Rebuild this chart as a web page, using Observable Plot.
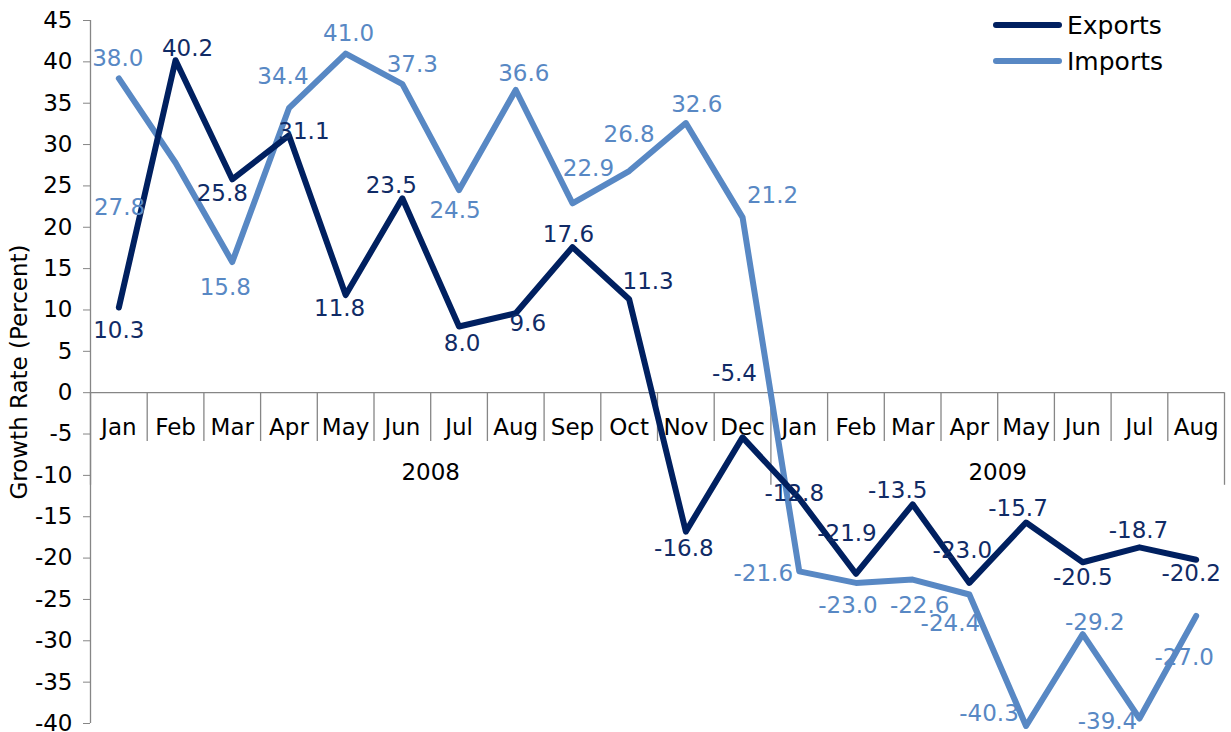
<!DOCTYPE html>
<html>
<head>
<meta charset="utf-8">
<script src="https://cdn.jsdelivr.net/npm/d3@7"></script>
<script src="https://cdn.jsdelivr.net/npm/@observablehq/plot@0.6"></script>
<style>
  body { margin: 0; background: #fff; }
  #wrap { position: relative; width: 1231px; height: 732px; font-family: "DejaVu Sans", Verdana, sans-serif; }
  #legend { position: absolute; left: 990px; top: 7px; font-size: 25px; color: #000; }
  #legend .item { display: flex; align-items: center; height: 36px; }
  #legend svg { display: block; margin-right: 2px; }
</style>
</head>
<body>
<div id="wrap"></div>
<script>
// ---- data ----
const months = ["Jan","Feb","Mar","Apr","May","Jun","Jul","Aug","Sep","Oct","Nov","Dec",
                "Jan","Feb","Mar","Apr","May","Jun","Jul","Aug"];
const years = ["2008", "2009"];
const yearCounts = [12, 8];
const exportsGrowth = [10.3, 40.2, 25.8, 31.1, 11.8, 23.5, 8.0, 9.6, 17.6, 11.3, -16.8, -5.4,
                       -12.8, -21.9, -13.5, -23.0, -15.7, -20.5, -18.7, -20.2];
const importsGrowth = [38.0, 27.8, 15.8, 34.4, 41.0, 37.3, 24.5, 36.6, 22.9, 26.8, 32.6, 21.2,
                       -21.6, -23.0, -22.6, -24.4, -40.3, -29.2, -39.4, -27.0];
const yTicks = [-40, -35, -30, -25, -20, -15, -10, -5, 0, 5, 10, 15, 20, 25, 30, 35, 40, 45];
const seriesNames = ["Exports", "Imports"];

// ---- styling (label nudges in px) ----
const exportDx = [0, 12, -10, 15, -6, -11, 3, 12, -4, 19, -2, -8, -5, -9, -15, -7, -8, 0, -1, -5];
const exportDy = [23, -12, 14, -4, 14, -13, 17, 10, -12, -18, 17, -64, -5, -40, -14, -32, -14, 15, -17, 14];
const importDx = [-1, -56, -7, -6, 3, 10, -4, 8, 16, 0, 11, 30, -36, -8, 7, -19, -37, 12, -32, -12];
const importDy = [-20, 45, 26, -32, -20, -20, 21, -16, -35, -36, -18, -22, 2, 23, 26, 29, -12, -12, 3, 42];
const darkBlue = "#002060";
const darkLabel = "#102b66";
const lightBlue = "#5888c4";
const gray = "#868686";

const exportRows = exportsGrowth.map((v, i) => ({i, v}));
const importRows = importsGrowth.map((v, i) => ({i, v}));

// category boundaries
const boundaries = months.map((_, i) => i).concat([months.length]);
const yearStarts = yearCounts.map((c, k) => yearCounts.slice(0, k).reduce((a, b) => a + b, 0));
const yearBounds = yearStarts.concat([months.length]);
const monthBounds = boundaries.filter(b => !yearBounds.includes(b));
const yearRows = years.map((y, k) => ({y, x: yearStarts[k] + yearCounts[k] / 2}));

function labelMarks(rows, dxs, dys, fill) {
  return rows.map((d, k) => Plot.text([d], {
    x: r => r.i + 0.5, y: "v", text: r => r.v.toFixed(1),
    dx: dxs[k], dy: dys[k], fill, fontSize: 23
  }));
}

const chart = Plot.plot({
  width: 1231,
  height: 732,
  marginLeft: 90,
  marginRight: 7,
  marginTop: 20,
  marginBottom: 9,
  style: { fontFamily: "'DejaVu Sans', Verdana, sans-serif", fontSize: "23px", color: "#000", background: "transparent", overflow: "visible" },
  x: { domain: [0, months.length], axis: null },
  y: { domain: [-40, 45], axis: null },
  marks: [
    Plot.axisY({
      ticks: yTicks, tickSize: 7, tickPadding: 11, stroke: gray,
      tickFormat: d => String(d),
      label: "Growth Rate (Percent)", labelAnchor: "center", labelArrow: "none", labelOffset: 80
    }),
    Plot.ruleX([0], { stroke: gray, strokeWidth: 1.3 }),
    Plot.ruleY([0], { stroke: gray, strokeWidth: 1.3 }),
    Plot.ruleX(monthBounds, { y1: 0, y2: -5.9, stroke: gray, strokeWidth: 1.3 }),
    Plot.ruleX(yearBounds, { y1: 0, y2: -11.2, stroke: gray, strokeWidth: 1.3 }),
    Plot.text(months, { x: (d, i) => i + 0.5, y: () => 0, dy: 35, text: d => d, fill: "#000" }),
    Plot.text(yearRows, { x: "x", y: () => 0, dy: 80, text: "y", fill: "#000" }),
    Plot.line(importRows, { x: d => d.i + 0.5, y: "v", stroke: lightBlue, strokeWidth: 6, strokeLinejoin: "round", strokeLinecap: "round" }),
    Plot.line(exportRows, { x: d => d.i + 0.5, y: "v", stroke: darkBlue, strokeWidth: 6, strokeLinejoin: "round", strokeLinecap: "round" }),
    ...labelMarks(importRows, importDx, importDy, lightBlue),
    ...labelMarks(exportRows, exportDx, exportDy, darkLabel)
  ]
});

const wrap = document.getElementById("wrap");
wrap.appendChild(chart);

// legend overlay
const legend = document.createElement("div");
legend.id = "legend";
[[seriesNames[0], darkBlue], [seriesNames[1], lightBlue]].forEach(([name, col]) => {
  const item = document.createElement("div");
  item.className = "item";
  item.innerHTML = `<svg width="75" height="10"><line x1="6" y1="5" x2="69" y2="5" stroke="${col}" stroke-width="6" stroke-linecap="round"/></svg><span>${name}</span>`;
  legend.appendChild(item);
});
wrap.appendChild(legend);
</script>
</body>
</html>
